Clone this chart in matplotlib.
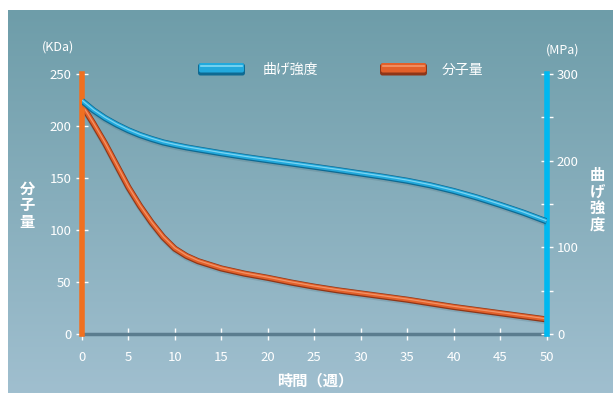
import matplotlib.pyplot as plt
import numpy as np
from matplotlib.patches import FancyBboxPatch

plt.rcParams["font.family"] = ["Noto Sans CJK JP", "DejaVu Sans"]

# weeks
weeks = [0, 1.25, 2.5, 3.75, 5, 6.25, 7.5, 8.75, 10, 11.25, 12.5, 15, 17.5,
         20, 22.5, 25, 27.5, 30, 32.5, 35, 37.5, 40, 42.5, 45, 47.5, 50]
# flexural strength (MPa, right axis)
strength = [269, 258, 249, 241.5, 235, 229.5, 225, 221, 218, 215.3, 213, 208.5,
            204.3, 200.5, 196.8, 193, 189.2, 185.2, 181.2, 176.8, 171.5, 165,
            157.5, 149, 140, 130]
# molecular weight (KDa, left axis)
mol_weight = [220, 202, 183, 162, 141, 123, 107, 93, 82, 75, 70, 63, 58,
              54, 49.5, 45.5, 42, 39, 36, 33, 29.5, 26, 23, 20, 17, 14]

x_ticks = list(range(0, 51, 5))
left_ticks = [0, 50, 100, 150, 200, 250]
right_ticks = [0, 100, 200, 300]
right_minor = [50, 150, 250]

BLUE = "#22a9dc"
BLUE_DARK = "#0e6a92"
BLUE_HI = "#9ae4fa"
ORANGE = "#e2602a"
ORANGE_DARK = "#8e3618"
ORANGE_HI = "#f7a57c"
WHITE = "white"

fig = plt.figure(figsize=(6.13, 3.93), dpi=100)

# gradient panel background
bg = fig.add_axes([8 / 613, 0, 1 - 8 / 613, 1 - 10 / 393])
bg.set_axis_off()
top = np.array([0x6e, 0x9d, 0xa9]) / 255
bot = np.array([0xa0, 0xbf, 0xcf]) / 255
t = np.linspace(0, 1, 256)[:, None]
grad = top[None, :] * (1 - t) + bot[None, :] * t
bg.imshow(grad[:, None, :].repeat(2, axis=1), aspect="auto", extent=[0, 1, 0, 1])

ax = fig.add_axes([82 / 613, 59 / 393, 464.5 / 613, 260 / 393])
ax.patch.set_alpha(0)
ax2 = ax.twinx()


def tube(a, x, y, main, dark, hi, z, px):
    a.plot(x, np.array(y) - 2.0 * px, color="#3c5d6b", lw=4, alpha=0.18,
           solid_capstyle="butt", zorder=z - 0.1)
    a.plot(x, y, color=dark, lw=4.4, solid_capstyle="butt", zorder=z)
    a.plot(x, np.array(y) + 0.3 * px, color=main, lw=3.0,
           solid_capstyle="butt", zorder=z + 0.1)
    a.plot(x, np.array(y) + 0.7 * px, color=hi, lw=0.9,
           solid_capstyle="butt", zorder=z + 0.2, alpha=0.75)


tube(ax, weeks, mol_weight, ORANGE, ORANGE_DARK, ORANGE_HI, 3, 250 / 260)
tube(ax2, weeks, strength, BLUE, BLUE_DARK, BLUE_HI, 3, 300 / 260)

ax.set_xlim(0, 50)
ax.set_ylim(0, 250)
ax2.set_ylim(0, 300)

for a in (ax, ax2):
    a.spines["top"].set_visible(False)
ax.spines["right"].set_visible(False)
ax2.spines["left"].set_visible(False)
ax2.spines["bottom"].set_visible(False)
ax.spines["left"].set_color("#f07020")
ax.spines["left"].set_linewidth(4)
ax2.spines["right"].set_color("#00b8f0")
ax2.spines["right"].set_linewidth(4)
ax.spines["bottom"].set_color("#5b7d8f")
ax.spines["bottom"].set_linewidth(2.5)
ax.spines["left"].set_zorder(5)

ax.set_xticks(x_ticks)
ax.set_yticks(left_ticks)
ax2.set_yticks(right_ticks)
ax2.set_yticks(right_minor, minor=True)

ax.tick_params(axis="x", direction="inout", length=9, width=1, color=WHITE,
               labelcolor=WHITE, labelsize=9.5, pad=8)
ax.tick_params(axis="y", direction="inout", length=9, width=1, color=WHITE,
               labelcolor=WHITE, labelsize=9.5, pad=3)
ax2.tick_params(axis="y", which="both", direction="inout", length=9, width=1,
                color=WHITE, labelcolor=WHITE, labelsize=9.5, pad=3)

# unit labels
fig.text(58 / 613, 1 - 47 / 393, "(KDa)", color=WHITE, fontsize=9,
         ha="center", va="center")
fig.text(563 / 613, 1 - 50 / 393, "(MPa)", color=WHITE, fontsize=9,
         ha="center", va="center")

# axis titles (stacked vertical text)
fig.text(27 / 613, 1 - 205 / 393, "分\n子\n量", color=WHITE, fontsize=11,
         fontweight="bold", ha="center", va="center", linespacing=1.05)
fig.text(597 / 613, 1 - 200 / 393, "曲\nげ\n強\n度", color=WHITE, fontsize=11,
         fontweight="bold", ha="center", va="center", linespacing=1.05)
fig.text(315 / 613, 1 - 380 / 393, "時間（週）", color=WHITE, fontsize=11,
         fontweight="bold", ha="center", va="center")

# legend
leg = fig.add_axes([0, 0, 1, 1])
leg.set_axis_off()
leg.set_xlim(0, 613)
leg.set_ylim(393, 0)
for (x0, x1), main, dark, hi, label, tx in [
    ((198, 245), BLUE, BLUE_DARK, BLUE_HI, "曲げ強度", 263),
    ((380, 427), ORANGE, ORANGE_DARK, ORANGE_HI, "分子量", 442),
]:
    leg.add_patch(FancyBboxPatch((x0, 63.5), x1 - x0, 12,
                                 boxstyle="round,pad=0,rounding_size=2.5",
                                 fc=dark, ec="none"))
    leg.add_patch(FancyBboxPatch((x0 + 1, 63), x1 - x0 - 2, 9.5,
                                 boxstyle="round,pad=0,rounding_size=2",
                                 fc=main, ec="none"))
    leg.plot([x0 + 3, x1 - 3], [65.5, 65.5], color=hi, lw=1.2, alpha=0.8)
    leg.text(tx, 70, label, color=WHITE, fontsize=10, ha="left", va="center")

fig.savefig("out.png", dpi=100)
